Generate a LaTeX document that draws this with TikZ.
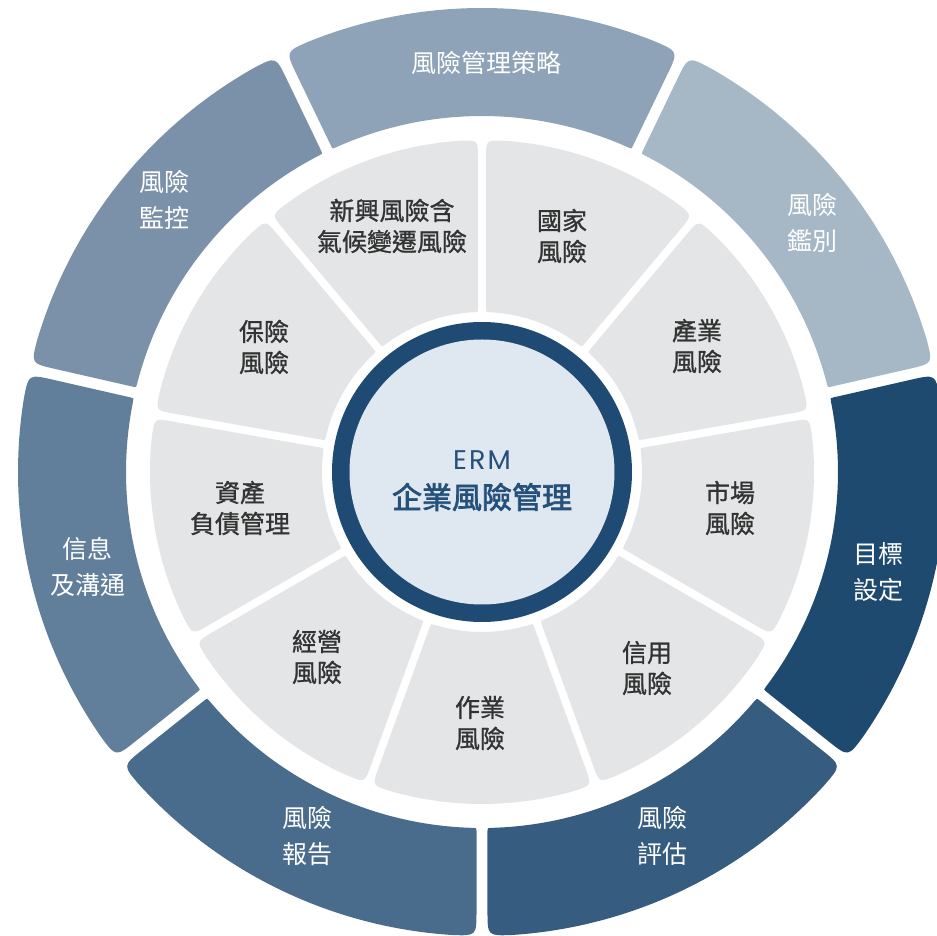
\documentclass[tikz,border=0pt]{standalone}
\usepackage{fontspec}
\setmainfont{Noto Sans CJK TC}
\newfontfamily\ermfont{Poppins}[LetterSpace=8]
\newfontfamily\cjkmed{Noto Sans CJK TC}[FakeBold=2.4]
\newfontfamily\cjklab{Noto Sans CJK TC}[FakeBold=1]
\usetikzlibrary{calc}
\definecolor{segA}{HTML}{8EA3B8}
\definecolor{segB}{HTML}{A6B7C6}
\definecolor{segC}{HTML}{1F4A70}
\definecolor{segD}{HTML}{365C80}
\definecolor{segE}{HTML}{4A6C8C}
\definecolor{segF}{HTML}{617F9B}
\definecolor{segG}{HTML}{7B91A9}
\definecolor{grayseg}{HTML}{E4E5E7}
\definecolor{labelgray}{HTML}{333333}
\definecolor{ringblue}{HTML}{1F4A73}
\definecolor{centerfill}{HTML}{DFE7F1}
\definecolor{centertext}{HTML}{25507A}

% #1 th1, #2 th2, #3 Rin, #4 Rout, #5 half gap, #6 outer corner, #7 inner corner, #8 fill
\newcommand{\ringseg}[8]{%
 \pgfmathsetmacro{\sgAoA}{#1+asin(#5/#4)}%
 \pgfmathsetmacro{\sgAoB}{#2-asin(#5/#4)}%
 \pgfmathsetmacro{\sgAiA}{#1+asin(#5/#3)}%
 \pgfmathsetmacro{\sgAiB}{#2-asin(#5/#3)}%
 \pgfmathsetmacro{\sgDo}{deg(#6/#4)}%
 \pgfmathsetmacro{\sgDi}{deg(#7/#3)}%
 \pgfmathsetmacro{\sgSo}{\sgAoA+\sgDo}%
 \pgfmathsetmacro{\sgEo}{\sgAoB-\sgDo}%
 \pgfmathsetmacro{\sgSi}{\sgAiB-\sgDi}%
 \pgfmathsetmacro{\sgEi}{\sgAiA+\sgDi}%
 \pgfmathsetmacro{\sgBr}{#2+180}%
 \pgfmathsetmacro{\sgAr}{#1+180}%
 \fill[#8] (\sgSo:#4) arc[start angle=\sgSo, end angle=\sgEo, radius=#4]
  .. controls (\sgAoB:#4) .. ($(\sgAoB:#4)+(\sgBr:#6)$)
  -- ($(\sgAiB:#3)+(#2:#7)$)
  .. controls (\sgAiB:#3) .. (\sgSi:#3)
  arc[start angle=\sgSi, end angle=\sgEi, radius=#3]
  .. controls (\sgAiA:#3) .. ($(\sgAiA:#3)+(#1:#7)$)
  -- ($(\sgAoA:#4)+(\sgAr:#6)$)
  .. controls (\sgAoA:#4) .. (\sgSo:#4) -- cycle;%
}

\tikzset{
 glabel/.style={text=labelgray, align=center, font=\cjklab\fontsize{25}{31}\selectfont},
 olabel/.style={text=white, align=center, font=\fontsize{25}{36}\selectfont},
}

\begin{document}
\begin{tikzpicture}[x=1pt,y=1pt]
\useasboundingbox (-482,472) rectangle (455,-464);
\clip (-482,472) rectangle (455,-464);

% outer ring (7 segments)
\ringseg{64.286}{115.714}{356}{464}{5.5}{25}{3}{segA}
\ringseg{12.857}{64.286}{356}{464}{5.5}{25}{3}{segB}
\ringseg{-38.571}{12.857}{356}{464}{5.5}{25}{3}{segC}
\ringseg{-90}{-38.571}{356}{464}{5.5}{25}{3}{segD}
\ringseg{-141.429}{-90}{356}{464}{5.5}{25}{3}{segE}
\ringseg{-192.857}{-141.429}{356}{464}{5.5}{25}{3}{segF}
\ringseg{115.714}{167.143}{356}{464}{5.5}{25}{3}{segG}

% inner gray ring (9 segments)
\ringseg{90}{130}{160}{332}{4}{18}{3}{grayseg}
\ringseg{50}{90}{160}{332}{4}{18}{3}{grayseg}
\ringseg{10}{50}{160}{332}{4}{18}{3}{grayseg}
\ringseg{-30}{10}{160}{332}{4}{18}{3}{grayseg}
\ringseg{-70}{-30}{160}{332}{4}{18}{3}{grayseg}
\ringseg{-110}{-70}{160}{332}{4}{18}{3}{grayseg}
\ringseg{-150}{-110}{160}{332}{4}{18}{3}{grayseg}
\ringseg{-190}{-150}{160}{332}{4}{18}{3}{grayseg}
\ringseg{130}{170}{160}{332}{4}{18}{3}{grayseg}

% center
\fill[ringblue] (0,0) circle (150);
\fill[centerfill] (0,0) circle (132.5);
\node[text=centertext, font=\ermfont\fontsize{27}{30}\selectfont] (erm) at (0,12) {ERM};
\node[text=centertext, font=\cjkmed\fontsize{30}{34}\selectfont] (ermzh) at (0,-25) {企業風險管理};

% outer labels
\node[olabel] (o1) at (5,409) {風險管理策略};
\node[olabel] (o2) at (330,249) {風險\\鑑別};
\node[olabel] (o3) at (396,-100) {目標\\設定};
\node[olabel] (o4) at (180,-364) {風險\\評估};
\node[olabel] (o5) at (-174,-364) {風險\\報告};
\node[olabel] (o6) at (-394,-95) {信息\\及溝通};
\node[olabel] (o7) at (-317,272) {風險\\監控};

% inner labels
\node[glabel] (g1) at (-90,246) {新興風險含\\氣候變遷風險};
\node[glabel] (g2) at (80,236) {國家\\風險};
\node[glabel] (g3) at (215,126) {產業\\風險};
\node[glabel] (g4) at (248,-36) {市場\\風險};
\node[glabel] (g5) at (165,-196) {信用\\風險};
\node[glabel] (g6) at (-2,-251) {作業\\風險};
\node[glabel] (g7) at (-165,-185) {經營\\風險};
\node[glabel] (g8) at (-242,-36) {資產\\負債管理};
\node[glabel] (g9) at (-218,125) {保險\\風險};
\end{tikzpicture}
\end{document}
